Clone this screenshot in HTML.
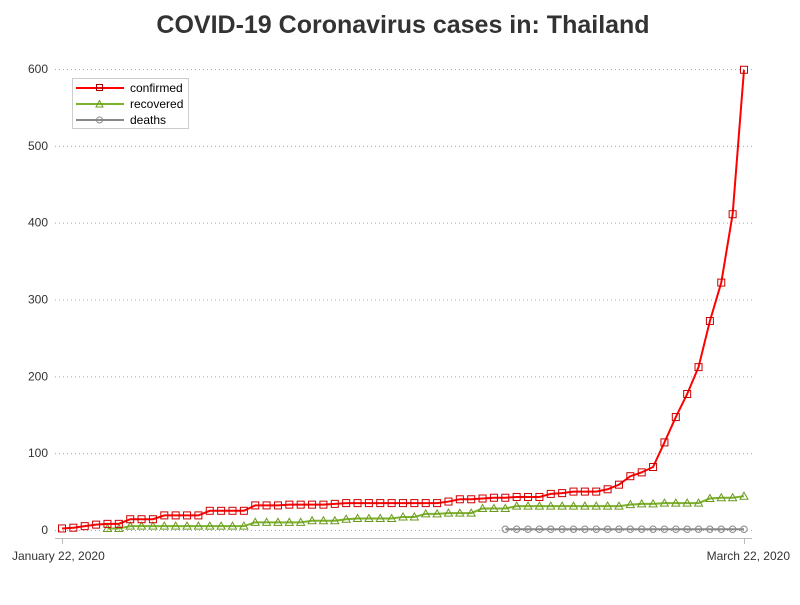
<!DOCTYPE html>
<html><head><meta charset="utf-8"><style>
body{margin:0;background:#fff;width:800px;height:600px;overflow:hidden}
svg{font-family:"Liberation Sans",sans-serif}
</style></head><body>
<svg id="chart" width="800" height="600">
<text x="403" y="33" text-anchor="middle" font-size="25" font-weight="bold" fill="#333">COVID-19 Coronavirus cases in: Thailand</text>
<g id="grid"></g><g id="series"></g>
<g>
<rect x="72.5" y="78.5" width="116" height="50" fill="#fff" stroke="#ccc"/>
<g><line x1="76" y1="88" x2="124" y2="88" stroke="red" stroke-width="2"/><rect x="96.5" y="84.5" width="6" height="6" fill="none" stroke="#a00"/><text x="130" y="92" font-size="12" fill="#000">confirmed</text></g>
<g><line x1="76" y1="104" x2="124" y2="104" stroke="#7cb12a" stroke-width="2"/><path d="M99.5 100.5 L103 107 L96 107 Z" fill="none" stroke="#6a9a20"/><text x="130" y="108" font-size="12" fill="#000">recovered</text></g>
<g><line x1="76" y1="120" x2="124" y2="120" stroke="#888" stroke-width="2"/><circle cx="99.5" cy="120" r="3" fill="none" stroke="#888"/><text x="130" y="124" font-size="12" fill="#000">deaths</text></g>
</g>
</svg>
<script>
const yTicks=[0,100,200,300,400,500,600];
const xLabels=["January 22, 2020","March 22, 2020"];
const confirmed=[2,3,5,7,8,8,14,14,14,19,19,19,19,25,25,25,25,32,32,32,33,33,33,33,34,35,35,35,35,35,35,35,35,35,37,40,40,41,42,42,43,43,43,47,48,50,50,50,53,59,70,75,82,114,147,177,212,272,322,411,599];
const recovered=[null,null,null,null,2,2,5,5,5,5,5,5,5,5,5,5,5,10,10,10,10,10,12,12,12,14,15,15,15,15,17,17,21,21,22,22,22,28,28,28,31,31,31,31,31,31,31,31,31,31,33,34,34,35,35,35,35,41,42,42,44];
const deaths=[null,null,null,null,null,null,null,null,null,null,null,null,null,null,null,null,null,null,null,null,null,null,null,null,null,null,null,null,null,null,null,null,null,null,null,null,null,null,null,1,1,1,1,1,1,1,1,1,1,1,1,1,1,1,1,1,1,1,1,1,1];
const NS="http://www.w3.org/2000/svg";
const x0=62,x1=744,y0=530,y600=69;
const n=confirmed.length;
const xs=i=>x0+(x1-x0)*i/(n-1);
const ys=v=>y0-(y0-y600)*v/600;
function mk(t,a,p){const e=document.createElementNS(NS,t);for(const k in a)e.setAttribute(k,a[k]);p.appendChild(e);return e;}
const g=document.getElementById('grid');
yTicks.forEach(t=>{
 const l=mk('line',{x1:55,x2:752,y1:ys(t)+0.5,y2:ys(t)+0.5,stroke:'#aaa','stroke-dasharray':'1,3'},g);
 
 
 const tx=mk('text',{x:48,y:ys(t)+4,'text-anchor':'end','font-size':12,fill:'#333'},g);
 tx.textContent=t;
 
 
});
const ax=mk('line',{x1:55,x2:752,y1:538.5,y2:538.5,stroke:'#bbb'},g);


[[0,'start'],[n-1,'end']].forEach((p,k)=>{
 mk('line',{x1:xs(p[0])+0.5,x2:xs(p[0])+0.5,y1:538,y2:544,stroke:'#bbb'},g);
 const tx=mk('text',{x:k?790:12,y:560,'text-anchor':p[1],'font-size':12,fill:'#333'},g);
 tx.textContent=xLabels[k];
 
 
});
const s=document.getElementById('series');
function draw(data,color,mcolor,shape,name){
 const grp=mk('g',{},s);
 
 
 let d='';data.forEach((v,i)=>{if(v==null)return;d+=(d?'L':'M')+xs(i)+' '+ys(v);});
 mk('path',{d:d,fill:'none',stroke:color,'stroke-width':2},grp);
 data.forEach((v,i)=>{if(v==null)return;const x=xs(i),y=ys(v);let m;
  if(shape==='sq')m=mk('rect',{x:x-3.5,y:y-3.5,width:7,height:7,fill:'none',stroke:mcolor},grp);
  else if(shape==='tri')m=mk('path',{d:`M${x} ${y-4}L${x+4} ${y+3}L${x-4} ${y+3}Z`,fill:'none',stroke:mcolor},grp);
  else m=mk('circle',{cx:x,cy:y,r:3.2,fill:'none',stroke:mcolor},grp);
  
  
 });
}
draw(deaths,'#888','#888','c','deaths');
draw(recovered,'#7cb12a','#6a9a20','tri','recovered');
draw(confirmed,'red','#c00','sq','confirmed');
</script>
</body></html>
